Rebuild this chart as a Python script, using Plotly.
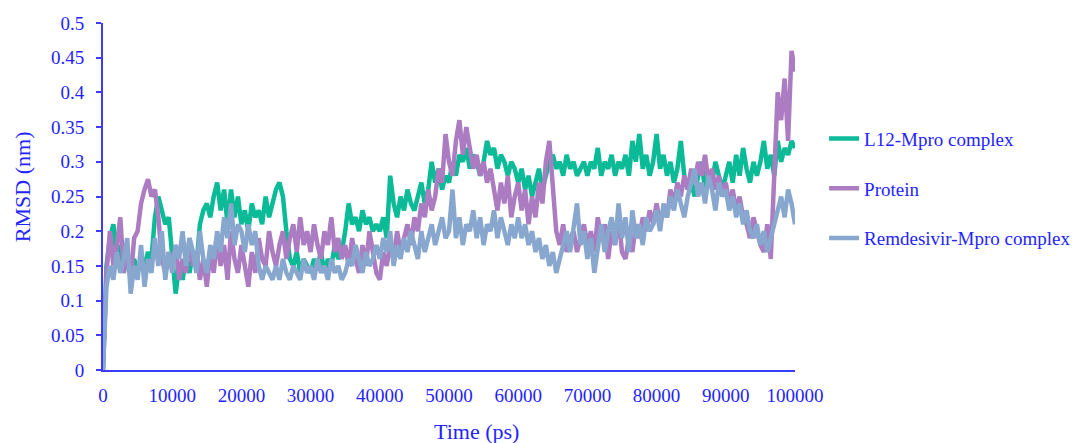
import plotly.graph_objects as go

# ---- data ----
time_ps = [i * 500 for i in range(201)]

l12_mpro = [
    0, 0.15, 0.19, 0.21, 0.16, 0.18, 0.14, 0.17, 0.15, 0.16,
    0.14, 0.16, 0.15, 0.17, 0.16, 0.22, 0.25, 0.23, 0.21, 0.22,
    0.17, 0.11, 0.15, 0.13, 0.16, 0.14, 0.17, 0.15, 0.21, 0.23,
    0.24, 0.22, 0.25, 0.27, 0.23, 0.26, 0.21, 0.26, 0.22, 0.25,
    0.21, 0.23, 0.20, 0.24, 0.22, 0.23, 0.21, 0.25, 0.22, 0.24,
    0.26, 0.27, 0.25, 0.20, 0.16, 0.15, 0.17, 0.14, 0.16, 0.15,
    0.14, 0.16, 0.15, 0.17, 0.14, 0.16, 0.15, 0.18, 0.16, 0.17,
    0.20, 0.24, 0.21, 0.22, 0.20, 0.23, 0.21, 0.22, 0.20, 0.21,
    0.20, 0.22, 0.19, 0.28, 0.24, 0.22, 0.25, 0.23, 0.26, 0.24,
    0.23, 0.25, 0.27, 0.24, 0.26, 0.30, 0.27, 0.29, 0.26, 0.28,
    0.27, 0.30, 0.28, 0.31, 0.30, 0.32, 0.29, 0.31, 0.30, 0.28,
    0.30, 0.33, 0.31, 0.32, 0.29, 0.31, 0.30, 0.28, 0.30, 0.29,
    0.27, 0.29, 0.26, 0.28, 0.25, 0.27, 0.29, 0.26, 0.28, 0.30,
    0.31, 0.29, 0.30, 0.28, 0.31, 0.29, 0.30, 0.28, 0.29, 0.30,
    0.28, 0.30, 0.29, 0.32, 0.28, 0.30, 0.29, 0.31, 0.28, 0.30,
    0.29, 0.31, 0.28, 0.33, 0.30, 0.34, 0.29, 0.31, 0.28, 0.30,
    0.34, 0.29, 0.31, 0.28, 0.30, 0.27, 0.29, 0.33, 0.28, 0.26,
    0.27, 0.25, 0.28, 0.30, 0.26, 0.28, 0.27, 0.30, 0.28, 0.26,
    0.28, 0.30, 0.27, 0.31, 0.28, 0.32, 0.29, 0.27, 0.30, 0.28,
    0.30, 0.33, 0.29, 0.31, 0.28, 0.33, 0.30, 0.32, 0.31, 0.33,
    0.32,
]

protein = [
    0, 0.14, 0.20, 0.15, 0.18, 0.22, 0.14, 0.17, 0.13, 0.19,
    0.20, 0.24, 0.26, 0.275, 0.25, 0.26, 0.22, 0.16, 0.14, 0.17,
    0.15, 0.18, 0.13, 0.16, 0.14, 0.19, 0.15, 0.17, 0.13, 0.16,
    0.12, 0.17, 0.14, 0.19, 0.15, 0.18, 0.13, 0.20, 0.16, 0.14,
    0.18, 0.15, 0.12, 0.17, 0.14, 0.19, 0.16, 0.15, 0.20, 0.17,
    0.15, 0.18, 0.20, 0.16, 0.19, 0.21, 0.17, 0.22, 0.18, 0.20,
    0.17, 0.21, 0.18, 0.16, 0.20, 0.18, 0.22, 0.17, 0.19, 0.16,
    0.18, 0.15, 0.19, 0.16, 0.14, 0.18, 0.15, 0.20, 0.17, 0.14,
    0.13, 0.17, 0.15, 0.18, 0.16, 0.20, 0.17, 0.19, 0.21, 0.18,
    0.22, 0.20, 0.24, 0.22, 0.26, 0.23, 0.25, 0.29, 0.27, 0.34,
    0.30, 0.28, 0.33, 0.36, 0.31, 0.35, 0.32, 0.29, 0.31, 0.28,
    0.30, 0.27, 0.29, 0.26, 0.23, 0.27, 0.24, 0.28, 0.22, 0.25,
    0.27, 0.23, 0.26, 0.21, 0.25, 0.22, 0.27, 0.24, 0.30, 0.33,
    0.27, 0.20, 0.18, 0.21, 0.17, 0.19, 0.20, 0.17, 0.19, 0.21,
    0.18, 0.20, 0.17, 0.22, 0.19, 0.21, 0.16, 0.20, 0.18, 0.22,
    0.17, 0.16, 0.19, 0.17, 0.21, 0.19, 0.22, 0.20, 0.23, 0.21,
    0.24, 0.21, 0.23, 0.22, 0.26, 0.24, 0.27, 0.25, 0.28, 0.26,
    0.29, 0.27, 0.30, 0.28, 0.31, 0.27, 0.29, 0.26, 0.28, 0.25,
    0.27, 0.24, 0.26, 0.23, 0.25, 0.22, 0.21, 0.19, 0.22, 0.20,
    0.18, 0.17, 0.21, 0.16, 0.30, 0.40, 0.36, 0.42, 0.33, 0.46,
    0.43,
]

remdesivir_mpro = [
    0, 0.12, 0.15, 0.13, 0.17, 0.14, 0.16, 0.19, 0.11, 0.15,
    0.13, 0.18, 0.12, 0.16, 0.14, 0.19, 0.15, 0.20, 0.13, 0.17,
    0.14, 0.18, 0.16, 0.20, 0.15, 0.19, 0.17, 0.14, 0.20, 0.16,
    0.14, 0.18, 0.16, 0.20, 0.17, 0.22, 0.19, 0.24, 0.18, 0.21,
    0.20, 0.17, 0.21, 0.18, 0.20, 0.15, 0.13, 0.15, 0.14, 0.13,
    0.15, 0.13, 0.16, 0.14, 0.13, 0.15, 0.14, 0.13, 0.16, 0.14,
    0.15, 0.13, 0.16, 0.14, 0.15, 0.13, 0.16, 0.14, 0.15, 0.13,
    0.14, 0.16, 0.15, 0.18, 0.16, 0.14, 0.17, 0.15, 0.16, 0.18,
    0.16, 0.19, 0.17, 0.20, 0.15, 0.18, 0.16, 0.19, 0.17, 0.20,
    0.18, 0.16, 0.20, 0.17, 0.19, 0.21, 0.18, 0.20, 0.22, 0.19,
    0.20, 0.26, 0.19, 0.22, 0.18, 0.21, 0.20, 0.23, 0.19, 0.22,
    0.18, 0.21, 0.20, 0.23, 0.19, 0.22, 0.20, 0.18, 0.21, 0.19,
    0.22, 0.19, 0.21, 0.18, 0.20, 0.17, 0.19, 0.16, 0.18, 0.15,
    0.17, 0.14, 0.16, 0.18, 0.20, 0.17, 0.21, 0.24, 0.18, 0.20,
    0.16, 0.19, 0.14, 0.18, 0.21, 0.17, 0.20, 0.22, 0.18, 0.24,
    0.19, 0.22, 0.17, 0.23, 0.19, 0.21, 0.18, 0.22, 0.20, 0.21,
    0.23, 0.20, 0.24, 0.22, 0.25, 0.23, 0.26, 0.24, 0.22, 0.25,
    0.27, 0.29, 0.25, 0.27, 0.24, 0.28, 0.26, 0.23, 0.27, 0.25,
    0.26, 0.23, 0.25, 0.22, 0.24, 0.21, 0.23, 0.20, 0.19, 0.21,
    0.18, 0.20, 0.17, 0.19, 0.21, 0.23, 0.25, 0.22, 0.26, 0.24,
    0.21,
]

series_names = ["L12-Mpro complex", "Protein", "Remdesivir-Mpro complex"]
series_values = [l12_mpro, protein, remdesivir_mpro]
series_colors = ["#0BBA96", "#AB7CC2", "#88A7CF"]

x_tick_vals = [0, 10000, 20000, 30000, 40000, 50000, 60000, 70000, 80000, 90000, 100000]
x_tick_text = ["0", "10000", "20000", "30000", "40000", "50000", "60000", "70000", "80000", "90000", "100000"]
y_tick_vals = [0, 0.05, 0.1, 0.15, 0.2, 0.25, 0.3, 0.35, 0.4, 0.45, 0.5]
y_tick_text = ["0", "0.05", "0.1", "0.15", "0.2", "0.25", "0.3", "0.35", "0.4", "0.45", "0.5"]

for s in series_values:
    assert len(s) == len(time_ps)

TEXT = "#2424FF"
AXIS = "#3C3CFF"
FONT = "Liberation Serif, Times New Roman, serif"

fig = go.Figure()
for i, (name, vals, col) in enumerate(zip(series_names, series_values, series_colors)):
    fig.add_trace(go.Scatter(
        x=time_ps, y=vals, mode="lines", name=name,
        line=dict(color=col, width=4.5),
        legendgroup=f"g{i}",
    ))

fig.update_layout(
    width=1074, height=443,
    margin=dict(l=103, r=279, t=23, b=73, autoexpand=False),
    paper_bgcolor="white", plot_bgcolor="white",
    font=dict(family=FONT, color=TEXT, size=19),
    showlegend=True,
    legend=dict(
        x=1.042, y=0.7215, xanchor="left", yanchor="top",
        font=dict(size=19, color=TEXT, family=FONT),
        tracegroupgap=22, bgcolor="rgba(0,0,0,0)",
    ),
    xaxis=dict(
        range=[0, 100000], tickvals=x_tick_vals, ticktext=x_tick_text,
        showline=True, linecolor=AXIS, linewidth=2, ticks="",
        showgrid=False, zeroline=False, ticklabelstandoff=7,
        automargin=False,
        tickfont=dict(size=19, color=TEXT, family=FONT),
    ),
    yaxis=dict(
        range=[0, 0.5], tickvals=y_tick_vals, ticktext=y_tick_text,
        showline=True, linecolor=AXIS, linewidth=2,
        ticks="outside", ticklen=5, tickcolor=AXIS, tickwidth=2,
        showgrid=False, zeroline=False, ticklabelstandoff=8,
        automargin=False,
        tickfont=dict(size=19, color=TEXT, family=FONT),
    ),
    annotations=[
        dict(text="Time (ps)", xref="paper", yref="paper", x=0.540, y=-0.176,
             xanchor="center", yanchor="middle", showarrow=False,
             font=dict(size=22, color=TEXT, family=FONT)),
        dict(text="RMSD (nm)", xref="paper", yref="paper", x=-0.117, y=0.527,
             xanchor="center", yanchor="middle", textangle=-90, showarrow=False,
             font=dict(size=22, color=TEXT, family=FONT)),
    ],
)

# remove the browser's default 8px page margin so the figure fills the window
fig.write_html(
    "out.html",
    config={"displayModeBar": False},
    post_script="document.body.style.margin='0px';document.body.style.overflow='hidden';",
)
